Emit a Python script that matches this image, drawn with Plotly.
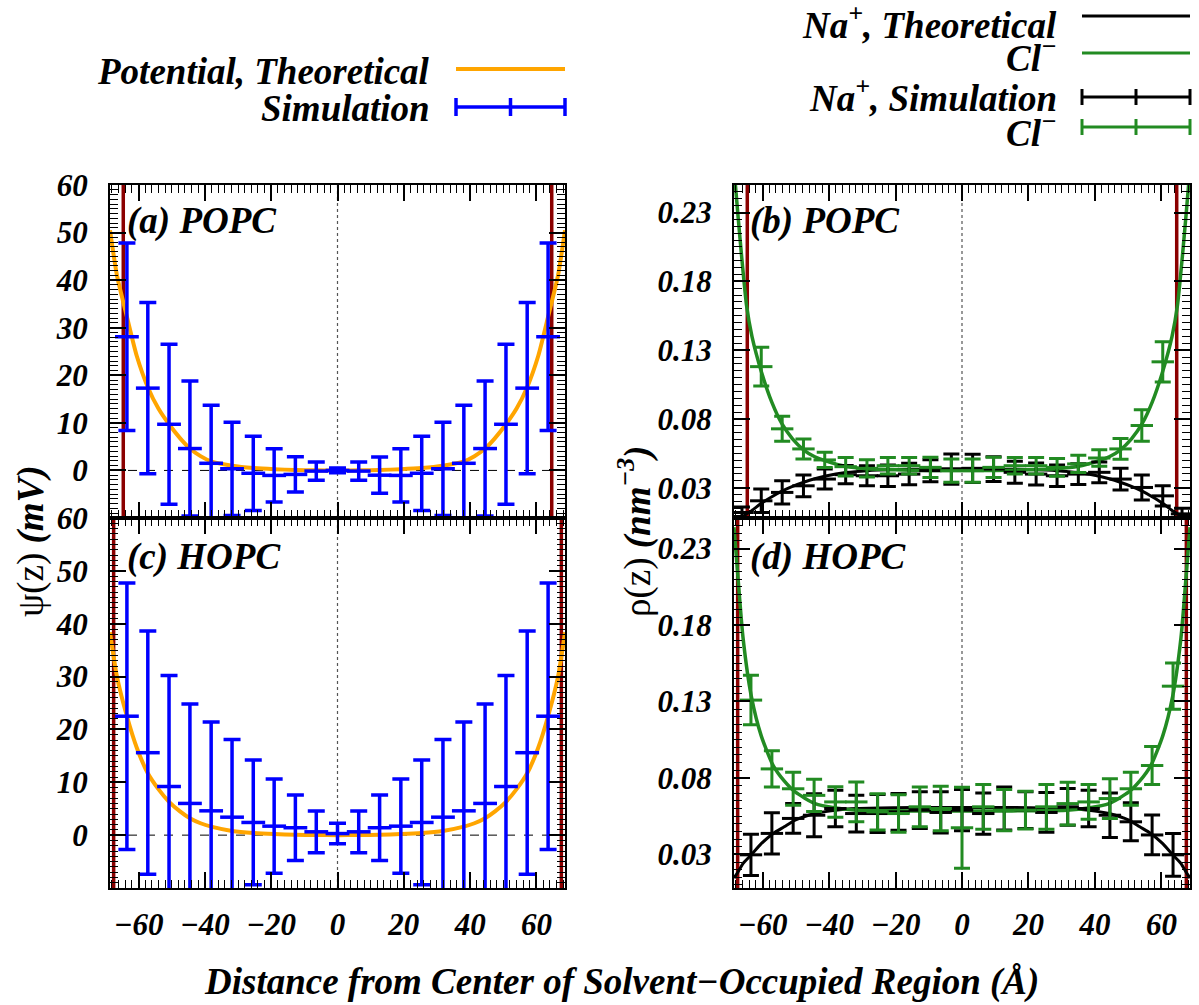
import plotly.graph_objects as go

# ---------------- data ----------------
sim_x = [-63.5, -57.2, -50.8, -44.5, -38.1, -31.8, -25.4, -19.1, -12.7, -6.4, 0,
         6.4, 12.7, 19.1, 25.4, 31.8, 38.1, 44.5, 50.8, 57.2, 63.5]

pot_a_sim = [28.1, 17.3, 9.7, 4.6, 1.5, 0.35, -0.6, -1.05, -0.84, -0.14, 0.0,
             -0.14, -1.0, -1.05, -0.6, 0.35, 1.5, 4.6, 9.7, 17.3, 28.1]
pot_a_err = [19.7, 18.0, 16.8, 14.2, 12.2, 9.8, 7.8, 5.6, 3.7, 1.9, 0.5,
             1.9, 3.8, 5.6, 7.8, 9.8, 12.2, 14.2, 16.8, 18.0, 19.7]
pot_c_sim = [22.5, 15.6, 9.2, 6.0, 4.6, 3.4, 2.4, 1.7, 1.4, 0.63, 0.3,
             0.63, 1.4, 1.7, 2.4, 3.4, 4.6, 6.0, 9.2, 15.6, 22.5]
pot_c_err = [25.2, 23.0, 21.0, 18.8, 16.8, 14.7, 11.8, 8.9, 6.2, 3.95, 1.95,
             3.95, 6.2, 8.9, 11.8, 14.7, 16.8, 18.8, 21.0, 23.0, 25.2]

theo_pot_x = [-68.6, -66.5, -63.5, -60.5, -57.2, -54.0, -50.8, -47.5, -44.5, -41.3, -38.1,
              -31.8, -25.4, -19.1, -12.7, -6.4, 0,
              6.4, 12.7, 19.1, 25.4, 31.8, 38.1, 41.3, 44.5, 47.5, 50.8, 54.0, 57.2,
              60.5, 63.5, 66.5, 68.6]
theo_pot_a = [50.5, 41.0, 32.3, 24.0, 17.5, 13.0, 9.7, 6.8, 4.6, 3.0, 1.9,
              1.0, 0.5, 0.25, 0.1, 0.03, 0.0,
              0.03, 0.1, 0.25, 0.5, 1.0, 1.9, 3.0, 4.6, 6.8, 9.7, 13.0, 17.5,
              24.0, 32.3, 41.0, 50.5]
theo_pot_c = [38.4, 30.0, 22.5, 16.5, 11.7, 8.7, 6.3, 4.5, 3.2, 2.25, 1.6,
              0.8, 0.4, 0.2, 0.08, 0.02, 0.0,
              0.02, 0.08, 0.2, 0.4, 0.8, 1.6, 2.25, 3.2, 4.5, 6.3, 8.7, 11.7,
              16.5, 22.5, 30.0, 38.4]

cl_b_x = [-60.4, -54.1, -47.7, -41.3, -35.0, -28.6, -22.3, -15.9, -9.5, -3.2,
          3.2, 9.5, 15.9, 22.3, 28.6, 35.0, 41.3, 47.7, 54.1, 60.4]
cl_b_sim = [0.118, 0.0728, 0.0582, 0.0502, 0.0453, 0.0441, 0.046, 0.046, 0.0448, 0.0424,
            0.0424, 0.0448, 0.046, 0.046, 0.0448, 0.0473, 0.0516, 0.0582, 0.0752, 0.1215]
cl_b_err = [0.014, 0.0091, 0.0073, 0.0055, 0.0067, 0.0063, 0.006, 0.006, 0.0073, 0.0085,
            0.0085, 0.0073, 0.006, 0.006, 0.0065, 0.0063, 0.006, 0.0075, 0.0115, 0.0146]
na_b_x = [-66.2, -60.4, -54.1, -47.7, -41.3, -35.0, -28.6, -22.3, -15.9, -9.5, -3.2,
          3.2, 9.5, 15.9, 22.3, 28.6, 35.0, 41.3, 47.7, 54.1, 60.4, 66.2]
na_b_sim = [0.012, 0.0205, 0.0266, 0.0314, 0.0363, 0.0395, 0.0387, 0.0387, 0.0399, 0.0424, 0.0436,
            0.0441, 0.0436, 0.0412, 0.0399, 0.0387, 0.0399, 0.0412, 0.0363, 0.0302, 0.0241, 0.011]
na_b_err = [0.004, 0.0085, 0.0085, 0.0079, 0.0073, 0.0067, 0.0073, 0.0078, 0.0078, 0.008, 0.011,
            0.0103, 0.009, 0.008, 0.008, 0.0078, 0.0075, 0.0075, 0.0079, 0.0091, 0.0073, 0.004]

cl_d_sim = [0.1309, 0.0859, 0.0729, 0.0686, 0.0643, 0.0643, 0.0578, 0.0567, 0.0611, 0.060, 0.0474,
            0.0611, 0.0589, 0.0589, 0.0611, 0.0632, 0.0643, 0.0665, 0.0729, 0.0881, 0.140]
cl_d_err = [0.0162, 0.0119, 0.0108, 0.0105, 0.010, 0.013, 0.0119, 0.0123, 0.013, 0.0146, 0.0265,
            0.0146, 0.0135, 0.0123, 0.0146, 0.014, 0.0114, 0.013, 0.0108, 0.0124, 0.0151]
na_d_sim = [0.0297, 0.0437, 0.0535, 0.0556, 0.060, 0.0567, 0.0567, 0.0578, 0.0589, 0.0574, 0.0589,
            0.0567, 0.060, 0.0589, 0.0574, 0.0611, 0.060, 0.0556, 0.0513, 0.0427, 0.0297]
na_d_err = [0.0135, 0.0135, 0.0097, 0.014, 0.012, 0.012, 0.0124, 0.012, 0.012, 0.0135, 0.0135,
            0.0135, 0.014, 0.012, 0.013, 0.012, 0.012, 0.0146, 0.0124, 0.013, 0.014]

theo_b_x = [-68.6, -67.3, -66.3, -64.8, -63.2, -60.2, -57.2, -54.2, -51.0, -47.6, -44.3, -41.0,
            -35.0, -28.7, -20.0, -10.0, 0,
            10.0, 20.0, 28.7, 35.0, 41.0, 44.3, 47.6, 51.0, 54.2, 57.2, 60.2, 63.2, 64.8,
            66.3, 67.3, 68.6]
theo_cl_b = [0.262, 0.225, 0.198, 0.162, 0.140, 0.113, 0.092, 0.0765, 0.0655, 0.0574, 0.0525, 0.0495,
             0.0455, 0.0438, 0.043, 0.0426, 0.0425,
             0.0426, 0.043, 0.0438, 0.0455, 0.0495, 0.0525, 0.0574, 0.0655, 0.0765, 0.092, 0.113,
             0.140, 0.162, 0.198, 0.225, 0.262]
theo_na_b = [0.004, 0.0062, 0.0083, 0.011, 0.0135, 0.019, 0.0235, 0.0275, 0.031, 0.034, 0.0365, 0.0385,
             0.041, 0.0424, 0.0432, 0.0435, 0.0436,
             0.0435, 0.0432, 0.0424, 0.041, 0.0385, 0.0365, 0.034, 0.031, 0.0275, 0.0235, 0.019,
             0.0135, 0.011, 0.0083, 0.0062, 0.004]
theo_d_x = [-68.6, -67.4, -65.9, -63.4, -60.4, -56.8, -53.5, -50.2, -44.2, -38.1, -31.6,
            -20.0, -10.0, 0, 10.0, 20.0,
            31.6, 38.1, 44.2, 50.2, 53.5, 56.8, 60.4, 63.4, 65.9, 67.4, 68.6]
theo_cl_d = [0.244, 0.211, 0.172, 0.1335, 0.1075, 0.088, 0.078, 0.0708, 0.0632, 0.0604, 0.0589,
             0.0585, 0.0584, 0.0584, 0.0584, 0.0585,
             0.0589, 0.0604, 0.0632, 0.0708, 0.078, 0.088, 0.1075, 0.1335, 0.172, 0.211, 0.244]
theo_na_d = [0.0145, 0.0185, 0.024, 0.0297, 0.037, 0.0437, 0.048, 0.0524, 0.0567, 0.0589, 0.060,
             0.0605, 0.0607, 0.0607, 0.0607, 0.0605,
             0.060, 0.0589, 0.0567, 0.0524, 0.048, 0.0437, 0.037, 0.0297, 0.024, 0.0185, 0.0145]

wall_top = 64.6
wall_bottom = 67.5

x_tickvals = [-60, -40, -20, 0, 20, 40, 60]
x_ticktext = ["\u221260", "\u221240", "\u221220", "0", "20", "40", "60"]
pot_tickvals = [0, 10, 20, 30, 40, 50, 60]
rho_tickvals = [0.03, 0.08, 0.13, 0.18, 0.23]
rho_ticktext = ["0.03", "0.08", "0.13", "0.18", "0.23"]
x_minor, pot_minor, rho_minor = 2, 1, 0.005

# ---------------- style ----------------
W, H = 1199, 1005
ML, MR, MT, MB = 110, 9, 185, 117
PW, PH = W - ML - MR, H - MT - MB


def px(x):
    return (x - ML) / PW


def py(y):
    return (H - MB - y) / PH


ORANGE = "#FFA500"
BLUE = "#0000FF"
GREEN = "#228B22"
BLACK = "#000000"
WALL = "#8B0000"
SERIF = "Liberation Serif"
tickfont = dict(family=SERIF, size=31, color="black", weight="bold", style="italic")
bigfont = dict(family=SERIF, size=37, color="black", weight="bold", style="italic")

fig = go.Figure()

dom_x_left = [0, px(565)]
dom_x_right = [px(734), 1]
split = py(518)
dom_y_top = [split, 1]
dom_y_bot = [0, split]

panels = {
    1: dict(xd=dom_x_left, yd=dom_y_top, kind="pot", top=True),
    2: dict(xd=dom_x_right, yd=dom_y_top, kind="rho", top=True),
    3: dict(xd=dom_x_left, yd=dom_y_bot, kind="pot", top=False),
    4: dict(xd=dom_x_right, yd=dom_y_bot, kind="rho", top=False),
}

layout_axes = {}
for i, p in panels.items():
    sx = "" if i == 1 else str(i)
    layout_axes["xaxis" + sx] = dict(
        domain=p["xd"], anchor="y" + sx, range=[-68.6, 68.6], automargin=False,
        tickmode="array", tickvals=x_tickvals, ticktext=x_ticktext,
        showticklabels=not p["top"], tickfont=tickfont, ticklabelstandoff=8,
        ticks="inside", ticklen=16, tickwidth=1.5, tickcolor="black",
        minor=dict(tickmode="linear", tick0=0, dtick=x_minor, ticks="inside", ticklen=8,
                   tickwidth=1, tickcolor="black", showgrid=False),
        showline=True, linewidth=2, linecolor="black", mirror="allticks",
        showgrid=False, zeroline=False,
    )
    if p["kind"] == "pot":
        yax = dict(range=[-10, 60], tickvals=pot_tickvals,
                   ticktext=[str(v) for v in pot_tickvals],
                   minor=dict(tickmode="linear", tick0=0, dtick=pot_minor, ticks="inside",
                              ticklen=8, tickwidth=1, tickcolor="black", showgrid=False))
    else:
        yax = dict(range=[0.008, 0.25], tickvals=rho_tickvals, ticktext=rho_ticktext,
                   minor=dict(tickmode="linear", tick0=rho_tickvals[0], dtick=rho_minor,
                              ticks="inside", ticklen=8, tickwidth=1, tickcolor="black",
                              showgrid=False))
    yax.update(domain=p["yd"], anchor="x" + sx, automargin=False, tickfont=tickfont,
               tickmode="array", ticklabelstandoff=14,
               ticks="inside", ticklen=16, tickwidth=1.5, tickcolor="black",
               showline=True, linewidth=2, linecolor="black", mirror="allticks",
               showgrid=False, zeroline=False)
    layout_axes["yaxis" + sx] = yax


def err_trace(x, y, e, color, xa, ya, thick, cap):
    return go.Scatter(
        x=x, y=y, mode="markers", xaxis=xa, yaxis=ya, showlegend=False,
        marker=dict(symbol="line-ew", size=2 * cap, color=color,
                    line=dict(color=color, width=thick)),
        error_y=dict(type="data", array=e, visible=True, color=color,
                     thickness=thick, width=cap),
    )


def line_trace(x, y, color, width, xa, ya):
    return go.Scatter(x=x, y=y, mode="lines", xaxis=xa, yaxis=ya, showlegend=False,
                      line=dict(color=color, width=width, shape="spline", smoothing=0.6))


fig.add_trace(line_trace(theo_pot_x, theo_pot_a, ORANGE, 4, "x", "y"))
fig.add_trace(err_trace(sim_x, pot_a_sim, pot_a_err, BLUE, "x", "y", 3.5, 8.5))
fig.add_trace(line_trace(theo_pot_x, theo_pot_c, ORANGE, 4, "x3", "y3"))
fig.add_trace(err_trace(sim_x, pot_c_sim, pot_c_err, BLUE, "x3", "y3", 3.5, 8.5))
fig.add_trace(line_trace(theo_b_x, theo_na_b, BLACK, 3, "x2", "y2"))
fig.add_trace(line_trace(theo_b_x, theo_cl_b, GREEN, 3.5, "x2", "y2"))
fig.add_trace(err_trace(na_b_x, na_b_sim, na_b_err, BLACK, "x2", "y2", 3, 8))
fig.add_trace(err_trace(cl_b_x, cl_b_sim, cl_b_err, GREEN, "x2", "y2", 3, 8))
fig.add_trace(line_trace(theo_d_x, theo_na_d, BLACK, 3, "x4", "y4"))
fig.add_trace(line_trace(theo_d_x, theo_cl_d, GREEN, 3.5, "x4", "y4"))
fig.add_trace(err_trace(sim_x, na_d_sim, na_d_err, BLACK, "x4", "y4", 3, 8))
fig.add_trace(err_trace(sim_x, cl_d_sim, cl_d_err, GREEN, "x4", "y4", 3, 8))

shapes = []
for i, p in panels.items():
    sx = "" if i == 1 else str(i)
    wall = wall_top if p["top"] else wall_bottom
    for w in (-wall, wall):
        shapes.append(dict(type="line", xref="x" + sx, yref="y" + sx + " domain",
                           x0=w, x1=w, y0=0, y1=1, layer="below",
                           line=dict(color=WALL, width=3.5)))
    shapes.append(dict(type="line", xref="x" + sx, yref="y" + sx + " domain",
                       x0=0, x1=0, y0=0, y1=1, layer="below",
                       line=dict(color="#555555", width=1.2, dash="dot")))
    if p["kind"] == "pot":
        shapes.append(dict(type="line", xref="x" + sx + " domain", yref="y" + sx,
                           x0=0, x1=1, y0=0, y1=0, layer="below",
                           line=dict(color="black", width=1, dash="dash")))


def key_line(x0, x1, y, color, width):
    shapes.append(dict(type="line", xref="paper", yref="paper",
                       x0=px(x0), x1=px(x1), y0=py(y), y1=py(y),
                       line=dict(color=color, width=width)))


def key_err(x0, x1, y, color, width, half):
    key_line(x0, x1, y, color, width)
    for xx in (x0, (x0 + x1) / 2, x1):
        shapes.append(dict(type="line", xref="paper", yref="paper",
                           x0=px(xx), x1=px(xx), y0=py(y - half), y1=py(y + half),
                           line=dict(color=color, width=width)))


key_line(456, 565, 69, ORANGE, 4)
key_err(456, 565, 107, BLUE, 3.5, 9)
key_line(1082, 1190, 16, BLACK, 3)
key_line(1082, 1190, 53, GREEN, 3)
key_err(1082, 1190, 97, BLACK, 3, 8)
key_err(1082, 1190, 127, GREEN, 3, 8)

annotations = []


def ann(text, x, y, xanchor="left", font=bigfont, **kw):
    d = dict(text=text, x=px(x), y=py(y), xref="paper", yref="paper", showarrow=False,
             xanchor=xanchor, yanchor="middle", font=font)
    d.update(kw)
    annotations.append(d)


ann("Potential, Theoretical", 432, 71, "right")
ann("Simulation", 432, 108, "right")
ann("Na<sup>+</sup>, Theoretical", 1059, 22, "right")
ann("Cl<sup>\u2212</sup>", 1059, 56, "right")
ann("Na<sup>+</sup>, Simulation", 1059, 95, "right")
ann("Cl<sup>\u2212</sup>", 1059, 130, "right")

ann("(a) POPC", 125, 221)
ann("(b) POPC", 748, 221)
ann("(c) HOPC", 125, 557)
ann("(d) HOPC", 748, 557)

ann("Distance from Center of Solvent\u2212Occupied Region (\u00c5)", 621, 982, "center")
plainfont = dict(family=SERIF, size=37, color="black")
ann("\u03c8(z) <b><i>(mV)</i></b>", 31, 541, "center", font=plainfont, textangle=-90)
ann("\u03c1(z) <b><i>(nm<sup>\u22123</sup>)</i></b>", 635, 532, "center", font=plainfont,
    textangle=-90)

fig.update_layout(
    template="none",
    width=W, height=H,
    margin=dict(l=ML, r=MR, t=MT, b=MB, autoexpand=False),
    paper_bgcolor="white", plot_bgcolor="white",
    showlegend=False,
    font=dict(family=SERIF, color="black"),
    shapes=shapes, annotations=annotations,
    **layout_axes,
)

fig.write_html("out.html", config={"displayModeBar": False},
               post_script="document.body.style.margin='0';document.body.style.overflow='hidden';")
